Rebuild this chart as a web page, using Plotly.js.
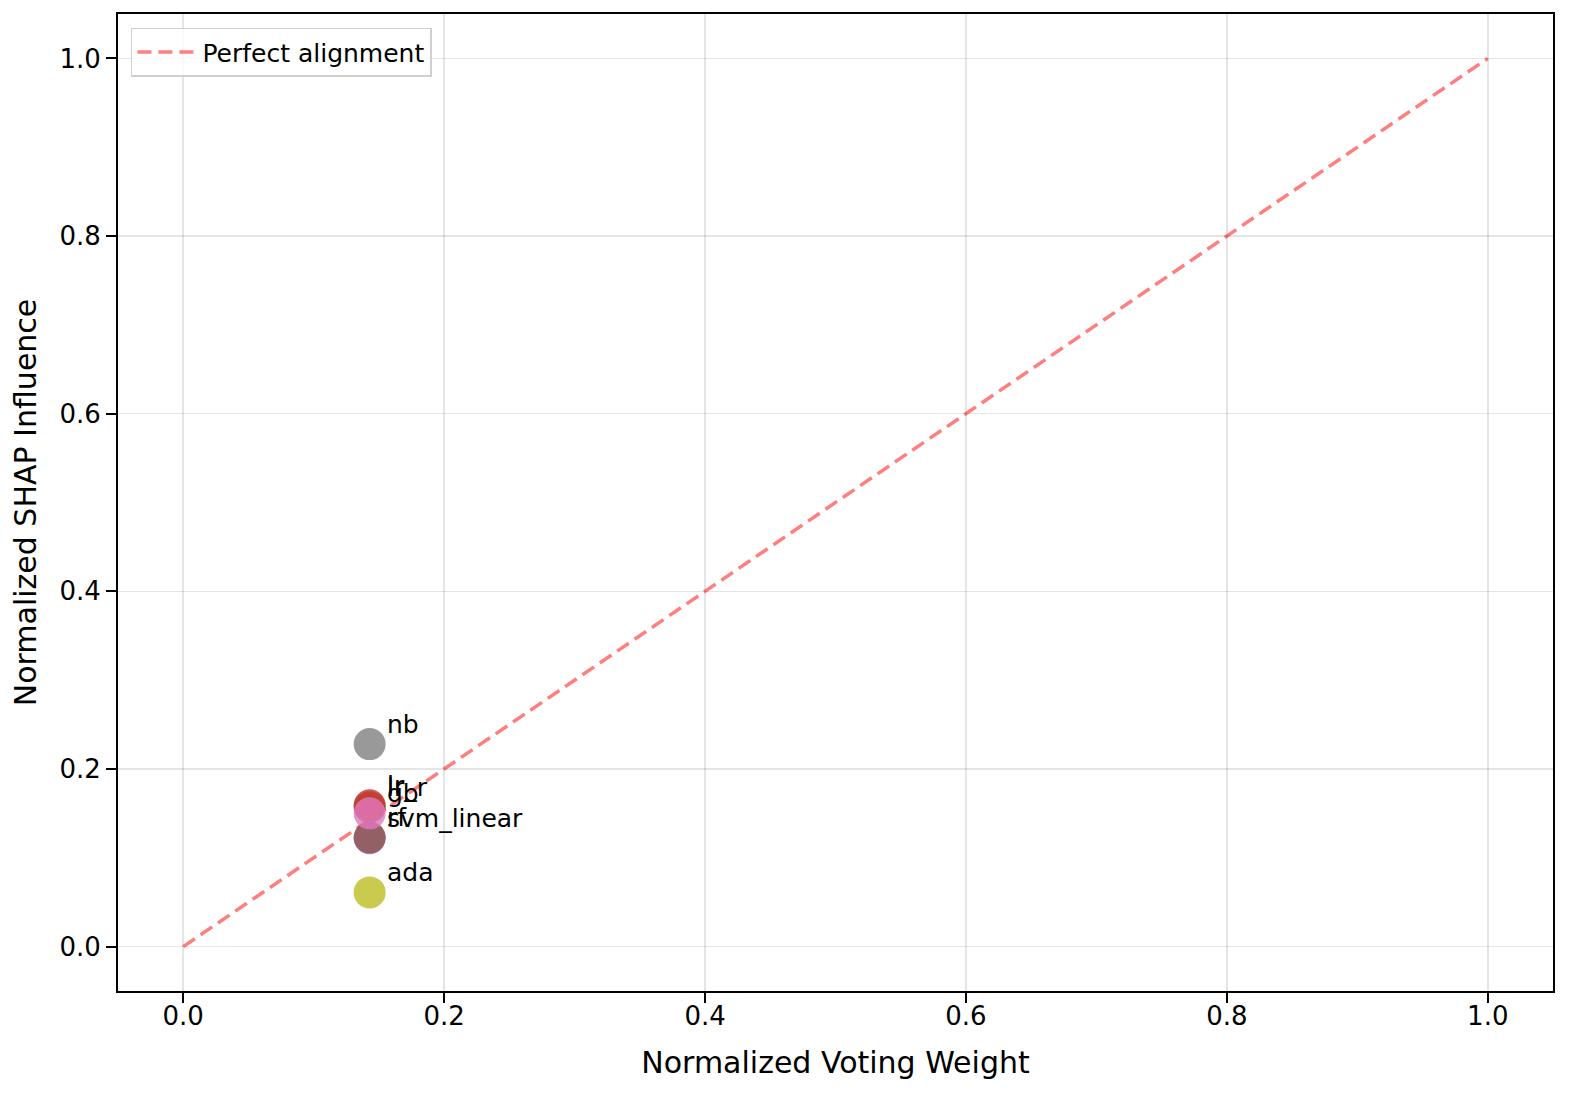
<!DOCTYPE html>
<html>
<head>
<meta charset="utf-8">
<script src="https://cdn.plot.ly/plotly-3.0.1.min.js"></script>
<style>
  html, body { margin: 0; padding: 0; background: #fff; }
  #chart { width: 1594px; height: 1108px; }
</style>
</head>
<body>
<div id="chart"></div>
<script>
// Model names, weights and SHAP influence
const models = ['lr_r', 'lr', 'svm_linear', 'rf', 'gb', 'nb', 'ada'];
const votingWeight = [0.1429, 0.1429, 0.1429, 0.1429, 0.1429, 0.1429, 0.1429];
const shapInfluence = [0.157, 0.159, 0.122, 0.123, 0.150, 0.228, 0.061];
const modelColors = ['#2ca02c', '#d62728', '#9467bd', '#8c564b', '#e377c2', '#7f7f7f', '#bcbd22'];

const diagX = [0, 1];
const diagY = [0, 1];

const FONT = 'DejaVu Sans, sans-serif';

// Reference diagonal
const diagTrace = {
    type: 'scatter',
    mode: 'lines',
    x: diagX,
    y: diagY,
    name: 'Perfect alignment',
    line: { color: 'rgba(255,0,0,0.5)', width: 3.5, dash: '14px,7px' },
    hoverinfo: 'skip'
};

// One marker per model
const pointTraces = models.map((m, i) => ({
    type: 'scatter',
    mode: 'markers',
    x: [votingWeight[i]],
    y: [shapInfluence[i]],
    name: m,
    showlegend: false,
    marker: { size: 32, color: modelColors[i], opacity: 0.8, line: { width: 0 } }
}));

// Text labels next to each point
const annotations = models.map((m, i) => ({
    x: votingWeight[i],
    y: shapInfluence[i],
    xref: 'x',
    yref: 'y',
    text: m,
    showarrow: false,
    xanchor: 'left',
    yanchor: 'bottom',
    xshift: 15,
    yshift: 3,
    font: { family: FONT, size: 25, color: '#000' }
}));

const axisBase = {
    range: [-0.05, 1.05],
    dtick: 0.2,
    tickformat: '.1f',
    showgrid: true,
    gridcolor: 'rgba(0,0,0,0.1)',
    gridwidth: 1.5,
    zeroline: false,
    showline: true,
    mirror: true,
    linecolor: '#000',
    linewidth: 2,
    ticks: 'outside',
    ticklen: 10,
    tickwidth: 2,
    tickcolor: '#000',
    tickfont: { family: FONT, size: 26, color: '#000' }
};

const layout = {
    width: 1594,
    height: 1108,
    margin: { l: 118, r: 41, t: 14, b: 117 },
    paper_bgcolor: '#fff',
    plot_bgcolor: '#fff',
    font: { family: FONT, color: '#000' },
    xaxis: Object.assign({}, axisBase, {
        ticklabelstandoff: -9,
        title: { text: 'Normalized Voting Weight', font: { family: FONT, size: 30 }, standoff: 22 }
    }),
    yaxis: Object.assign({}, axisBase, {
        title: { text: 'Normalized SHAP Influence', font: { family: FONT, size: 30 }, standoff: 14 }
    }),
    showlegend: true,
    legend: {
        x: 0.009,
        y: 0.986,
        xanchor: 'left',
        yanchor: 'top',
        itemwidth: 60,
        bgcolor: 'rgba(255,255,255,0.8)',
        bordercolor: '#d0d0d0',
        borderwidth: 1.5,
        font: { family: FONT, size: 25, color: '#000' }
    },
    annotations: annotations
};

Plotly.newPlot('chart', [diagTrace, ...pointTraces], layout, { displayModeBar: false, staticPlot: true });
</script>
</body>
</html>
